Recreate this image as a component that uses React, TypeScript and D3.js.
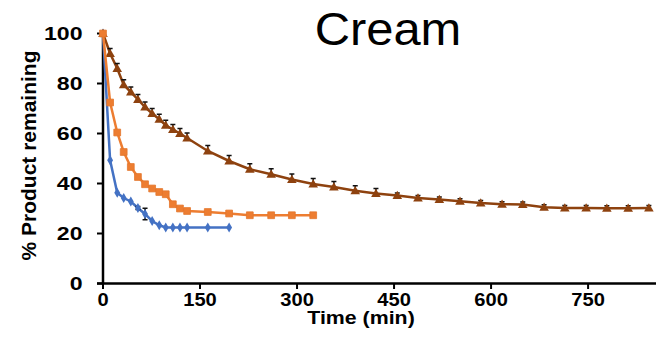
import React from "react";
import * as d3 from "d3";

// Times (min)
const brownTimes = [0, 11, 22, 32, 43, 54, 65, 76, 87, 97, 108, 119, 130, 162, 195, 227, 260, 292, 325, 357, 390, 422, 455, 487, 520, 552, 584, 617, 649, 682, 714, 747, 779, 812, 844];
const brownValues = [100, 92, 86, 79.5, 76.6, 73.6, 70.6, 68, 65.7, 63.3, 61.6, 60, 58.2, 53, 49, 45.7, 43.7, 41.6, 39.8, 38.6, 37.1, 36, 35.2, 34.2, 33.6, 32.9, 32.2, 31.7, 31.6, 30.5, 30.2, 30.2, 30.1, 30.1, 30.2];
const brownErrors = [0, 2, 2, 2, 2, 2, 2, 2, 2, 2, 2, 2, 2, 2.2, 2.2, 2.2, 2.2, 2.2, 2.2, 2.2, 2, 2, 1, 1, 1, 1, 1, 1, 1, 1, 1, 1, 1, 1, 1];

const orangeTimes = [0, 11, 22, 32, 43, 54, 65, 76, 87, 97, 108, 119, 130, 162, 195, 227, 260, 292, 325];
const orangeValues = [100, 72.4, 60.4, 52.6, 46.6, 42.6, 39.7, 38, 36.6, 35.7, 31.7, 30, 29, 28.6, 28, 27.3, 27.3, 27.3, 27.3];

const blueTimes = [0, 11, 22, 32, 43, 54, 65, 76, 87, 97, 108, 119, 130, 162, 195];
const blueValues = [100, 49.3, 36.3, 34.2, 32.8, 30.2, 27.8, 25, 23.3, 22.4, 22.4, 22.4, 22.4, 22.4, 22.4];
const blueErrors = [0, 0, 0, 0, 0, 0.6, 2.3, 0, 0, 0, 0, 0, 0, 0, 0];

const xTicks = [0, 150, 300, 450, 600, 750];
const yTicks = [0, 20, 40, 60, 80, 100];

const title = "Cream";
const xTitle = "Time (min)";
const yTitle = "% Product remaining";

const W = 656;
const H = 343;
const FONT = "'Liberation Sans', Arial, Helvetica, sans-serif";

const BROWN = "#8E420F";
const ORANGE = "#ED7D31";
const BLUE = "#4472C4";

export default function App() {
  const x = d3.scaleLinear().domain([0, 855]).range([103, 656]);
  const y = d3.scaleLinear().domain([0, 100]).range([283.5, 33.5]);

  const line = d3
    .line<[number, number]>()
    .x((d) => x(d[0]))
    .y((d) => y(d[1]));

  const zip = (t: number[], v: number[]) => t.map((tt, i) => [tt, v[i]] as [number, number]);

  const brown = zip(brownTimes, brownValues);
  const orange = zip(orangeTimes, orangeValues);
  const blue = zip(blueTimes, blueValues);

  const tri = d3.symbol().type(d3.symbolTriangle).size(40)() as string;
  const sq = d3.symbol().type(d3.symbolSquare).size(46)() as string;
  const dia = d3.symbol().type(d3.symbolDiamond).size(30)() as string;

  const errBars = (pts: [number, number][], errs: number[], key: string, plusOnly: boolean) =>
    pts.map((p, i) => {
      if (!(errs[i] > 0)) return null;
      const cx = x(p[0]);
      const top = y(p[1] + errs[i]);
      const bot = plusOnly ? y(p[1]) : y(p[1] - errs[i]);
      return (
        <g key={key + i} stroke="#111" strokeWidth={1.5}>
          <line x1={cx} x2={cx} y1={top} y2={bot} />
          <line x1={cx - 2.5} x2={cx + 2.5} y1={top} y2={top} />
          {plusOnly ? null : <line x1={cx - 2.5} x2={cx + 2.5} y1={bot} y2={bot} />}
        </g>
      );
    });

  return (
    <svg
      width={W}
      height={H}
      style={{ position: "absolute", left: 0, top: 0, background: "#fff" }}
      fontFamily={FONT}
    >
      <rect x={0} y={0} width={W} height={H} fill="#fff" />

      {/* Title */}
      <text transform="translate(388,45) scale(1.04,1)" textAnchor="middle" fontSize={47} fill="#000">
        {title}
      </text>

      {/* Axes */}
      <line x1={103} x2={103} y1={y(100)} y2={y(0)} stroke="#000" strokeWidth={2.5} />
      <line x1={97} x2={656} y1={y(0)} y2={y(0)} stroke="#000" strokeWidth={2.5} />
      {yTicks.map((t) => (
        <g key={"yt" + t}>
          <line x1={97} x2={103} y1={y(t)} y2={y(t)} stroke="#000" strokeWidth={2} />
          <text
            transform={`translate(82.5,${y(t) + 6.3}) scale(1.25,1)`}
            textAnchor="end"
            fontSize={18.5}
            fontWeight="bold"
            fill="#000"
          >
            {t}
          </text>
        </g>
      ))}
      {xTicks.map((t) => (
        <g key={"xt" + t}>
          <line x1={x(t)} x2={x(t)} y1={y(0)} y2={y(0) + 5.5} stroke="#000" strokeWidth={2} />
          <text
            transform={`translate(${x(t)},305.5) scale(1.15,1)`}
            textAnchor="middle"
            fontSize={17.5}
            fontWeight="bold"
            fill="#000"
          >
            {t}
          </text>
        </g>
      ))}

      {/* Axis titles */}
      <text transform="translate(361,324) scale(1.22,1)" textAnchor="middle" fontSize={17.5} fontWeight="bold" fill="#000">
        {xTitle}
      </text>
      <text transform="translate(36,155.5) rotate(-90)" textAnchor="middle" fontSize={21} fontWeight="bold" fill="#000">
        {yTitle}
      </text>

      {/* Blue series */}
      <path d={line(blue) as string} fill="none" stroke={BLUE} strokeWidth={2.5} />
      {errBars(blue, blueErrors, "be", false)}
      {blue.map((p, i) => (
        <path key={"bm" + i} d={dia} transform={`translate(${x(p[0])},${y(p[1])})`} fill={BLUE} />
      ))}

      {/* Brown series */}
      <path d={line(brown) as string} fill="none" stroke={BROWN} strokeWidth={2.5} />
      {errBars(brown, brownErrors, "re", true)}
      {brown.map((p, i) => (
        <path key={"rm" + i} d={tri} transform={`translate(${x(p[0])},${y(p[1]) + 0.8})`} fill={BROWN} />
      ))}

      {/* Orange series */}
      <path d={line(orange) as string} fill="none" stroke={ORANGE} strokeWidth={2.5} />
      {orange.map((p, i) => (
        <path
          key={"om" + i}
          d={sq}
          transform={`translate(${x(p[0])},${y(p[1])})`}
          fill={ORANGE}
          stroke="#E3762C"
          strokeWidth={0.8}
        />
      ))}
    </svg>
  );
}
